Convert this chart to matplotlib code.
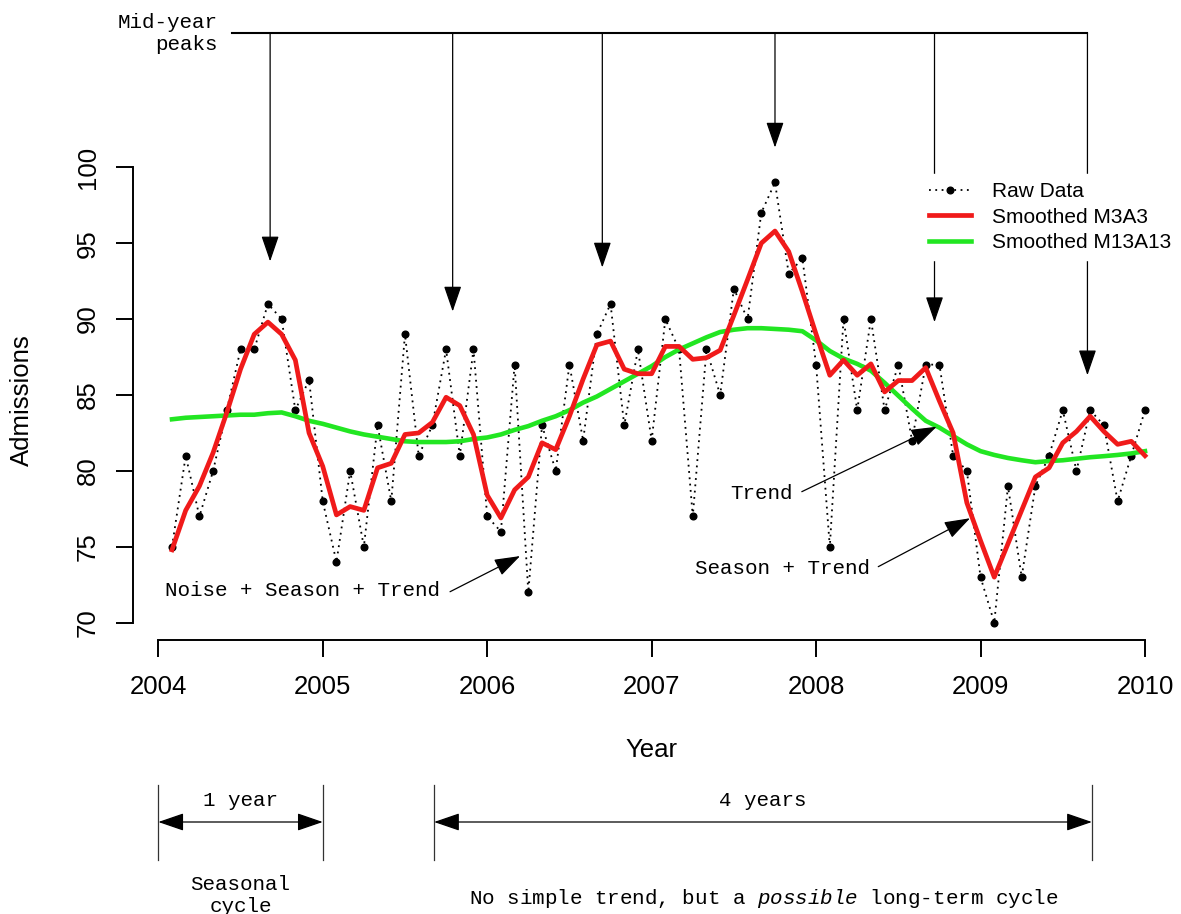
import matplotlib.pyplot as plt
from matplotlib.lines import Line2D
import numpy as np

plt.rcParams['font.family'] = ['Liberation Sans', 'DejaVu Sans']
plt.rcParams['mathtext.fontset'] = 'custom'
plt.rcParams['mathtext.rm'] = 'Liberation Mono'
plt.rcParams['mathtext.it'] = 'Liberation Mono:italic'

MONO = 'Liberation Mono'

# monthly admissions, Feb 2004 .. Jan 2010
start_year = 2004
raw = [75, 81, 77, 80, 84, 88, 88, 91, 90, 84, 86, 78,
       74, 80, 75, 83, 78, 89, 81, 83, 88, 81, 88, 77,
       76, 87, 72, 83, 80, 87, 82, 89, 91, 83, 88, 82,
       90, 88, 77, 88, 85, 92, 90, 97, 99, 93, 94, 87,
       75, 90, 84, 90, 84, 87, 82, 87, 87, 81, 80, 73,
       70, 79, 73, 79, 81, 84, 80, 84, 83, 78, 81, 84]

m3a3 = [74.8, 77.4, 79.0, 81.2, 83.85, 86.7, 89.0, 89.8, 89.0, 87.3, 82.5, 80.3,
        77.1, 77.65, 77.4, 80.2, 80.5, 82.4, 82.5, 83.2, 84.85, 84.3, 82.4, 78.4,
        76.9, 78.75, 79.6, 81.85, 81.4, 83.6, 86.05, 88.3, 88.55, 86.7, 86.4, 86.4,
        88.2, 88.2, 87.35, 87.45, 87.95, 90.25, 92.6, 95.0, 95.8, 94.45, 91.8, 89.0,
        86.3, 87.3, 86.3, 87.05, 85.2, 85.95, 85.95, 86.8, 84.6, 82.5, 77.9, 75.4,
        73.0, 75.2, 77.4, 79.6, 80.2, 81.85, 82.6, 83.6, 82.6, 81.75, 81.95, 81.0]

m13a13 = [83.4, 83.5, 83.55, 83.6, 83.65, 83.7, 83.7, 83.8, 83.85, 83.6, 83.3, 83.1,
          82.85, 82.6, 82.4, 82.25, 82.1, 81.95, 81.9, 81.9, 81.9, 81.95, 82.1, 82.2,
          82.4, 82.7, 82.95, 83.3, 83.6, 84.0, 84.5, 84.9, 85.4, 85.9, 86.4, 86.9,
          87.5, 88.0, 88.4, 88.8, 89.15, 89.3, 89.4, 89.4, 89.35, 89.3, 89.2, 88.6,
          87.9, 87.4, 87.05, 86.6, 85.8, 84.95, 84.1, 83.3, 82.85, 82.3, 81.75, 81.3,
          81.05, 80.85, 80.7, 80.57, 80.65, 80.7, 80.8, 80.9, 80.97, 81.05, 81.15, 81.3]

series_names = ['Raw Data', 'Smoothed M3A3', 'Smoothed M13A13']
x_ticks = [2004, 2005, 2006, 2007, 2008, 2009, 2010]
y_ticks = [70, 75, 80, 85, 90, 95, 100]

# mid-year peak annotations (x, arrow tip y)
peak_x = [2004.68, 2005.79, 2006.70, 2007.75, 2008.72, 2009.65]
peak_tip = [93.8, 90.5, 93.4, 101.3, 89.8, 86.3]
bracket_y = 108.85

red = '#f01a1a'
green = '#22e622'

years = start_year + np.arange(1, len(raw) + 1) / 12

W, H = 1181, 914
fig = plt.figure(figsize=(W / 100, H / 100), dpi=100)
ax = fig.add_axes([133.3 / W, 1 - 640 / H, (1170 - 133.3) / W, 480 / H])
ax.set_xlim(2003.848, 2010.152)
ax.set_ylim(68.86, 100.48)

dots = (0, (1, 2.5))
ax.plot(years, raw, color='black', lw=1.3, ls=dots, zorder=2)
ax.plot(years, raw, 'o', color='black', ms=4.8, zorder=3, clip_on=False)
ax.plot(years, m13a13, color=green, lw=3.3, zorder=4)
ax.plot(years, m3a3, color=red, lw=3.4, zorder=5)

for s in ['top', 'right']:
    ax.spines[s].set_visible(False)
ax.spines['left'].set_bounds(70, 100)
ax.spines['bottom'].set_bounds(2004, 2010)
for s in ['left', 'bottom']:
    ax.spines[s].set_linewidth(1.4)

ax.set_xticks(x_ticks)
ax.set_yticks(y_ticks)
ax.tick_params(length=12, width=1.4, labelsize=18.5, direction='out')
ax.tick_params(axis='x', pad=13)
ax.tick_params(axis='y', pad=12, labelrotation=90)
for lbl in ax.get_yticklabels():
    lbl.set_verticalalignment('center')

ax.set_xlabel('Year', fontsize=18.5, va='center')
ax.xaxis.set_label_coords(0.5, (640 - 750) / 480)
ax.set_ylabel('Admissions', fontsize=18.5, va='center')
ax.yaxis.set_label_coords((22 - 133.3) / 1036.7, 0.5)

handles = [Line2D([], [], color='black', lw=1.3, ls=dots, marker='o', ms=4.8),
           Line2D([], [], color=red, lw=3.4),
           Line2D([], [], color=green, lw=3.3)]
leg = ax.legend(handles, series_names, loc='upper left',
                bbox_to_anchor=(921 / W, 1 - 174 / H), bbox_transform=fig.transFigure,
                frameon=True, fancybox=False, edgecolor='white', facecolor='white',
                framealpha=1, fontsize=15, handlelength=2.0, handletextpad=1.0,
                labelspacing=0.3, borderpad=0.4, borderaxespad=0)
leg.set_zorder(10)

head = '-|>,head_length=1.6,head_width=0.55'
both = '<|-|>,head_length=1.6,head_width=0.55'

# top bracket with arrows to the mid-year peaks
ax.plot([2004.449, peak_x[-1]], [bracket_y, bracket_y], color='black', lw=1.5,
        clip_on=False, zorder=6)
for px, tip in zip(peak_x, peak_tip):
    ax.annotate('', xy=(px, tip), xytext=(px, bracket_y), annotation_clip=False,
                arrowprops=dict(arrowstyle=head, mutation_scale=10, color='black',
                                lw=0.9, shrinkA=0, shrinkB=0), zorder=6)
ax.text(2004.363, 109.57, 'Mid-year', ha='right', va='center', family=MONO, fontsize=15)
ax.text(2004.363, 108.06, 'peaks', ha='right', va='center', family=MONO, fontsize=15)

# component annotations
notes = [('Noise + Season + Trend', (2005.715, 72.09), (2005.774, 72.04), (2006.20, 74.39)),
         ('Trend', (2007.86, 78.48), (2007.913, 78.63), (2008.733, 82.91)),
         ('Season + Trend', (2008.328, 73.6), (2008.378, 73.69), (2008.936, 76.88))]
for label, tpos, start, tip in notes:
    ax.text(tpos[0], tpos[1], label, ha='right', va='center', family=MONO, fontsize=15)
    ax.annotate('', xy=tip, xytext=start, annotation_clip=False,
                arrowprops=dict(arrowstyle=head, mutation_scale=10, color='black',
                                lw=0.9, shrinkA=0, shrinkB=0), zorder=6)

# bottom spans
tr = ax.get_xaxis_transform()
def fy(py):
    return (640 - py) / 480

for x0, x1 in [(2004.0, 2005.0), (2005.677, 2009.677)]:
    for x in (x0, x1):
        ax.plot([x, x], [fy(785), fy(860)], transform=tr, clip_on=False,
                color='#333333', lw=0.9)
    ax.annotate('', xy=(x1, fy(822)), xytext=(x0, fy(822)), xycoords=tr, textcoords=tr,
                annotation_clip=False,
                arrowprops=dict(arrowstyle=both, mutation_scale=10, color='black',
                                lw=0.9, shrinkA=0, shrinkB=0))

ax.text(2004.5, fy(800), '1 year', transform=tr, ha='center', va='center',
        family=MONO, fontsize=15)
ax.text(2007.677, fy(800), '4 years', transform=tr, ha='center', va='center',
        family=MONO, fontsize=15)
ax.text(2004.5, fy(884), 'Seasonal', transform=tr, ha='center', va='center',
        family=MONO, fontsize=15)
ax.text(2004.5, fy(906), 'cycle', transform=tr, ha='center', va='center',
        family=MONO, fontsize=15)
ax.text(2007.68, fy(899), r'No simple trend, but a $\mathit{possible}$ long-term cycle',
        transform=tr, ha='center', va='center', family=MONO, fontsize=15)

fig.savefig('out.png', dpi=100)
